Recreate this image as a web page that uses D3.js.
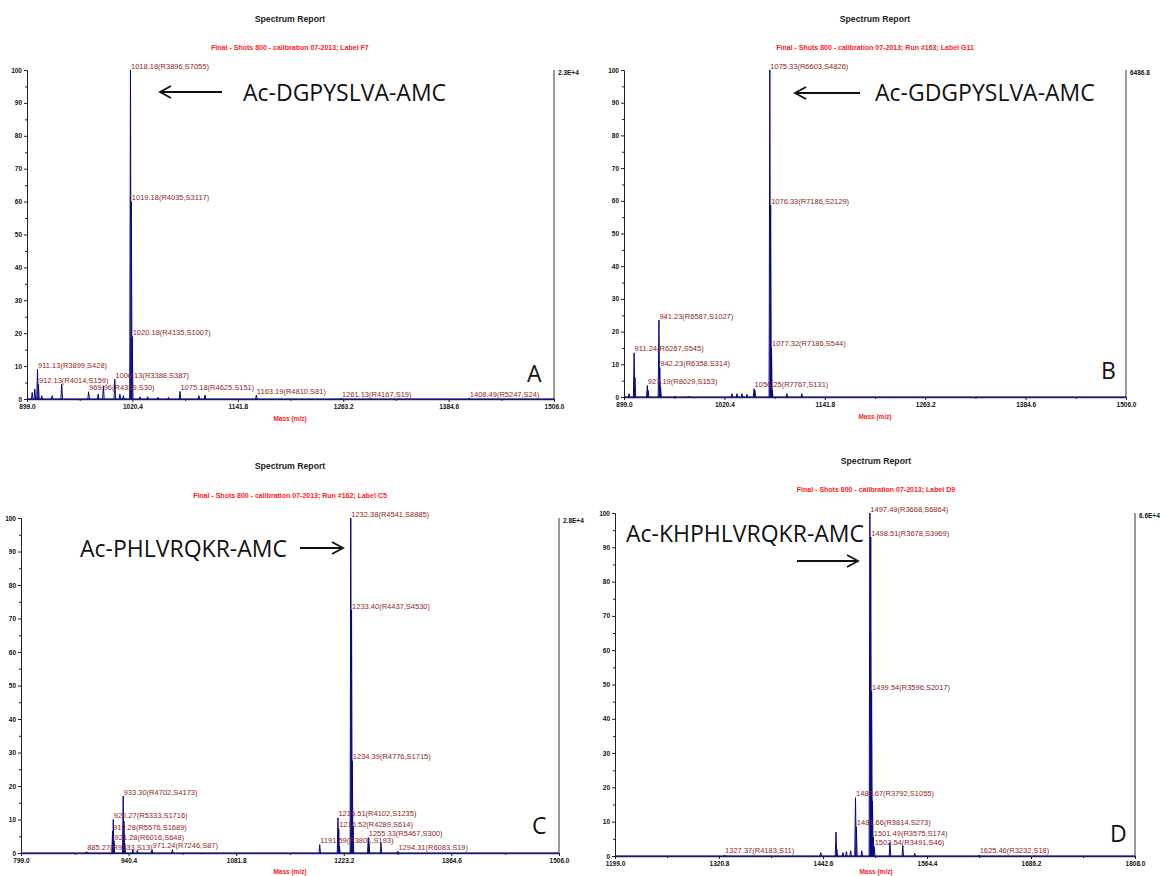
<!DOCTYPE html>
<html>
<head>
<meta charset="utf-8">
<script src="https://cdn.jsdelivr.net/npm/d3@7"></script>
<style>
body { margin: 0; background: #fff; }
svg text { font-family: "Liberation Sans", Arial, sans-serif; }
</style>
</head>
<body>
<div id="chart"></div>
<script>
// Data

var titleText = "Spectrum Report";
var subtitleA = "Final - Shots 800 - calibration 07-2013; Label F7";
var subtitleB = "Final - Shots 800 - calibration 07-2013; Run #163; Label G11";
var subtitleC = "Final - Shots 800 - calibration 07-2013; Run #162; Label C5";
var subtitleD = "Final - Shots 800 - calibration 07-2013; Label D9";

var peptideA = "Ac-DGPYSLVA-AMC";
var peptideB = "Ac-GDGPYSLVA-AMC";
var peptideC = "Ac-PHLVRQKR-AMC";
var peptideD = "Ac-KHPHLVRQKR-AMC";

var maxCountA = "2.3E+4";
var maxCountB = "6486.8";
var maxCountC = "2.8E+4";
var maxCountD = "6.6E+4";

var intensityTicks = [0, 10, 20, 30, 40, 50, 60, 70, 80, 90, 100];
var intensityMinor = [5, 15, 25, 35, 45, 55, 65, 75, 85, 95];

var massTicksA = [899.0, 1020.4, 1141.8, 1263.2, 1384.6, 1506.0];
var massTicksB = [899.0, 1020.4, 1141.8, 1263.2, 1384.6, 1506.0];
var massTicksC = [799.0, 940.4, 1081.8, 1223.2, 1364.6, 1506.0];
var massTicksD = [1199.0, 1320.8, 1442.6, 1564.4, 1686.2, 1808.0];

// labelled peaks: [m/z, % intensity, "resolution,signal"]
var labelsA = [
	[911.13, 9, "R3899,S428"], [912.13, 4.5, "R4014,S159"], [969.96, 2.2, "R4329,S30"],
	[1000.13, 6, "R3388,S387"], [1018.18, 100, "R3896,S7055"], [1019.18, 60, "R4035,S3117"],
	[1020.18, 19, "R4135,S1007"], [1075.18, 2.3, "R4625,S151"], [1163.19, 1.2, "R4810,S81"],
	[1261.13, 0.3, "R4167,S19"], [1408.49, 0.3, "R5247,S24"]
];
// unlabelled peaks: [m/z, % intensity]
var peaksA = [
	[905, 2], [908, 3], [916, 1], [928, 1], [939, 4.5], [981, 1.5], [987, 4], [1006, 1.5],
	[1010, 1], [1029, 0.7], [1038, 0.7], [1050, 0.5], [1062, 0.5], [1097, 1], [1104, 1.2]
];

var labelsB = [
	[911.24, 13.5, "R6267,S545"], [927.19, 3.5, "R8029,S153"], [941.23, 23.5, "R6587,S1027"],
	[942.23, 9, "R6358,S314"], [1056.25, 2.5, "R7767,S131"], [1075.33, 100, "R6603,S4826"],
	[1076.33, 58.5, "R7186,S2129"], [1077.32, 15, "R7186,S544"]
];
var peaksB = [
	[905, 1], [912.24, 6], [928.2, 2], [943.2, 3], [961, 0.3], [977, 0.3], [1029.5, 1],
	[1035.6, 1], [1041.7, 1], [1047.7, 0.8], [1057.3, 2], [1078.3, 2], [1096, 1], [1114, 1]
];

var labelsC = [
	[885.27, 0.4, "R9333,S13"], [919.28, 6.5, "R5576,S1689"], [920.27, 10, "R5333,S1716"],
	[921.28, 3.5, "R6016,S648"], [933.30, 17, "R4702,S4173"], [971.24, 1, "R7246,S87"],
	[1191.59, 2.5, "R3801,S193"], [1215.51, 10.5, "R4102,S1235"], [1216.52, 7.2, "R4289,S614"],
	[1232.38, 100, "R4541,S8885"], [1233.40, 72.5, "R4437,S4530"], [1234.39, 27.5, "R4776,S1715"],
	[1255.33, 4.6, "R5467,S300"], [1294.31, 0.5, "R6083,S19"]
];
var peaksC = [
	[934.3, 9.5], [935.3, 3], [946, 1], [952, 0.8], [998, 1], [1217.5, 2], [1235.4, 8],
	[1256.3, 3], [1272, 3]
];

var labelsD = [
	[1327.37, 0.3, "R4183,S11"], [1480.67, 17, "R3792,S1055"], [1481.66, 8.5, "R3814,S273"],
	[1497.49, 100, "R3668,S6864"], [1498.51, 93, "R3678,S3969"], [1499.54, 48, "R3596,S2017"],
	[1501.49, 5.5, "R3575,S174"], [1502.54, 2.7, "R3491,S46"], [1625.46, 0.3, "R3232,S18"]
];
var peaksD = [
	[1440, 1], [1457.8, 7], [1458.8, 2], [1466, 1], [1470, 1.3], [1475, 1.5], [1488, 1.5],
	[1500.5, 16], [1521, 4], [1536, 3], [1550, 0.8]
];

// Globals

var width = 1160;
var height = 876;
var svg = d3.select("#chart")
	.append("svg")
	.attr("width", width)
	.attr("height", height);

var peakColor = "#06067f";
var labelColor = "#8e2626";

// page layout of the four reports
var panels = [
	{labels: labelsA, peaks: peaksA, ticks: massTicksA, sub: subtitleA, maxCount: maxCountA,
	 peptide: peptideA, letter: "A", l: 27, r: 554, t: 70, b: 399, cx: 290, titleY: 19, subY: 47,
	 massY: 418, noteX: 243, noteY: 101, arrow: [222, 160, 92], letterX: 527, letterY: 382},
	{labels: labelsB, peaks: peaksB, ticks: massTicksB, sub: subtitleB, maxCount: maxCountB,
	 peptide: peptideB, letter: "B", l: 624, r: 1126, t: 70, b: 397, cx: 875, titleY: 19, subY: 47,
	 massY: 416, noteX: 875, noteY: 101, arrow: [860, 795, 93], letterX: 1101, letterY: 379},
	{labels: labelsC, peaks: peaksC, ticks: massTicksC, sub: subtitleC, maxCount: maxCountC,
	 peptide: peptideC, letter: "C", l: 21, r: 559, t: 518, b: 853, cx: 290, titleY: 466, subY: 495,
	 massY: 871, noteX: 80, noteY: 557, arrow: [300, 343, 548], letterX: 532, letterY: 834},
	{labels: labelsD, peaks: peaksD, ticks: massTicksD, sub: subtitleD, maxCount: maxCountD,
	 peptide: peptideD, letter: "D", l: 615, r: 1135, t: 513, b: 856, cx: 876, titleY: 461, subY: 489,
	 massY: 871, noteX: 626, noteY: 542, arrow: [797, 858, 561], letterX: 1110, letterY: 842}
];

// Functions
function DrawPanel(p) {
	var g = svg.append("g");

	var xAxis = d3.scaleLinear()
		.domain([p.ticks[0], p.ticks[p.ticks.length - 1]])
		.range([p.l, p.r]);

	var yAxis = d3.scaleLinear()
		.domain([0, 100])
		.range([p.b, p.t]);

	g.append("text")
		.attr("x", p.cx).attr("y", p.titleY)
		.attr("text-anchor", "middle").attr("dominant-baseline", "central")
		.style("font-size", "8.7px").style("font-weight", "bold").style("fill", "#222")
		.text(titleText);

	g.append("text")
		.attr("x", p.cx).attr("y", p.subY)
		.attr("text-anchor", "middle").attr("dominant-baseline", "central")
		.style("font-size", "7px").style("font-weight", "bold").style("fill", "#ff1a1a")
		.text(p.sub);

	// minor ticks
	g.append("g")
		.attr("transform", "translate(" + p.l + ",0)")
		.call(d3.axisLeft(yAxis).tickValues(intensityMinor).tickSize(2).tickSizeOuter(0).tickFormat(""));

	var midTicks = [];
	for (var i = 1; i < p.ticks.length; i++) midTicks.push((p.ticks[i - 1] + p.ticks[i]) / 2);
	g.append("g")
		.attr("transform", "translate(0," + p.b + ")")
		.call(d3.axisBottom(xAxis).tickValues(midTicks).tickSize(2).tickSizeOuter(0).tickFormat(""));

	var yg = g.append("g")
		.attr("class", "axis axis--y")
		.attr("transform", "translate(" + p.l + ",0)")
		.call(d3.axisLeft(yAxis).tickValues(intensityTicks).tickSize(3).tickSizeOuter(0).tickPadding(2));

	var xg = g.append("g")
		.attr("class", "axis axis--x")
		.attr("transform", "translate(0," + p.b + ")")
		.call(d3.axisBottom(xAxis).tickValues(p.ticks).tickSize(3).tickSizeOuter(0).tickPadding(2)
			.tickFormat(d3.format(".1f")));

	g.selectAll(".axis text")
		.style("font-size", "6.5px").style("font-weight", "bold").style("fill", "#111")
		.style("font-family", "'Liberation Sans', Arial, sans-serif");
	g.selectAll(".tick line").style("stroke", "#222");
	g.selectAll(".domain").style("stroke", "#222");
	xg.select(".domain").style("stroke", "#2a2a66").style("stroke-width", 1.5);

	// right axis with the absolute count of the top of the scale
	g.append("line")
		.attr("x1", p.r).attr("x2", p.r).attr("y1", p.t).attr("y2", p.b)
		.style("stroke", "#777").style("stroke-width", 1.5);
	g.append("text")
		.attr("x", p.r + 4).attr("y", p.t + 2)
		.attr("dominant-baseline", "central")
		.style("font-size", "6.5px").style("font-weight", "bold").style("fill", "#111")
		.text(p.maxCount);

	g.append("text")
		.attr("x", p.cx).attr("y", p.massY)
		.attr("text-anchor", "middle").attr("dominant-baseline", "central")
		.style("font-size", "6.5px").style("font-weight", "bold").style("fill", "#ff1a1a")
		.text("Mass (m/z)");

	// spectrum trace
	var peakLine = d3.line()
		.x(function(d) { return xAxis(d[0]); })
		.y(function(d) { return yAxis(d[1]); });

	var allPeaks = p.peaks.concat(p.labels.map(function(d) { return [d[0], d[1]]; }));
	allPeaks.sort(function(a, b) { return a[0] - b[0]; });

	g.append("path")
		.attr("d", peakLine([[p.ticks[0], 0], [p.ticks[p.ticks.length - 1], 0]]))
		.style("stroke", peakColor).style("stroke-width", 1).style("fill", "none");

	g.selectAll(".peak")
		.data(allPeaks)
		.enter().append("path")
			.attr("class", "peak")
			.attr("d", function(d) { return peakLine([[d[0] - 0.9, 0], [d[0], d[1]], [d[0] + 0.9, 0]]); })
			.style("stroke", peakColor).style("stroke-width", 1).style("fill", "none");

	g.selectAll(".plabel")
		.data(p.labels)
		.enter().append("text")
			.attr("class", "plabel")
			.attr("x", function(d) { return xAxis(d[0]) + 0.5; })
			.attr("y", function(d) { return Math.min(yAxis(d[1]) - 4, p.b - 4); })
			.attr("dominant-baseline", "central")
			.style("font-size", "7.5px").style("fill", labelColor)
			.text(function(d) { return d[0].toFixed(2) + "(" + d[2] + ")"; });

	// peptide annotation and arrow
	g.append("text")
		.attr("x", p.noteX).attr("y", p.noteY)
		.style("font-family", "'Open Sans', 'Noto Sans', sans-serif")
		.style("font-size", "23px").style("fill", "#111")
		.text(p.peptide);

	var a = p.arrow;
	var dir = a[1] > a[0] ? -1 : 1;
	g.append("line")
		.attr("x1", a[0]).attr("x2", a[1]).attr("y1", a[2]).attr("y2", a[2])
		.style("stroke", "#111").style("stroke-width", 1.8);
	g.append("path")
		.attr("d", "M" + (a[1] + dir * 11) + "," + (a[2] - 6) + "L" + a[1] + "," + a[2] +
			"L" + (a[1] + dir * 11) + "," + (a[2] + 6))
		.style("stroke", "#111").style("stroke-width", 1.8).style("fill", "none");

	g.append("text")
		.attr("x", p.letterX).attr("y", p.letterY)
		.style("font-family", "'Open Sans', 'Noto Sans', sans-serif")
		.style("font-size", "23px").style("fill", "#111")
		.text(p.letter);

	return;
}

// Main
panels.forEach(DrawPanel);
</script>
</body>
</html>
